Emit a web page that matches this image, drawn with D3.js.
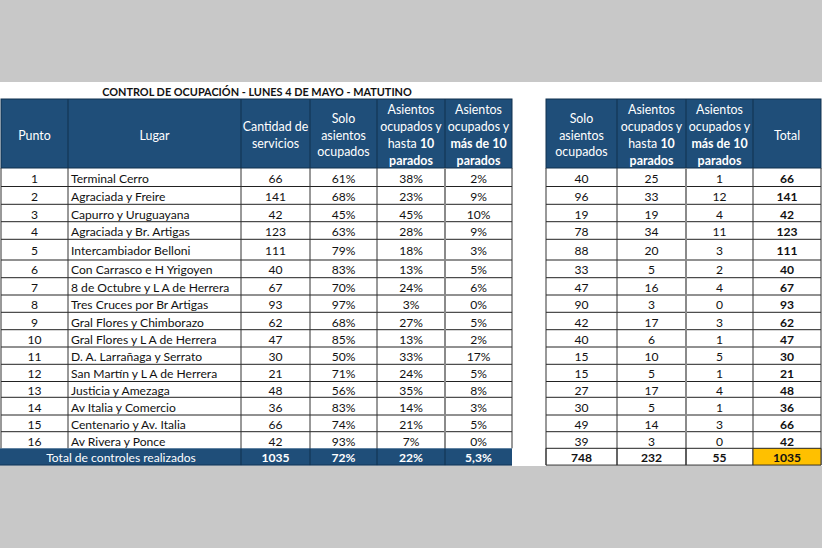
<!DOCTYPE html>
<html><head><meta charset="utf-8">
<script src="https://cdn.jsdelivr.net/npm/d3@7"></script>
<style>
html,body{margin:0;padding:0;background:#c8c8c8;}
svg{display:block;}
text{font-family:Lato,"Open Sans",sans-serif;}
</style></head>
<body>
<svg id="c" width="822" height="548"></svg>
<script>
// ---- data ----
const title = "CONTROL DE OCUPACIÓN - LUNES 4 DE MAYO - MATUTINO";
const puntos = ["1","2","3","4","5","6","7","8","9","10","11","12","13","14","15","16"];
const lugares = ["Terminal Cerro","Agraciada y Freire","Capurro y Uruguayana","Agraciada y Br. Artigas","Intercambiador Belloni","Con Carrasco e H Yrigoyen","8 de Octubre y L A de Herrera","Tres Cruces por Br Artigas","Gral Flores y Chimborazo","Gral Flores y L A de Herrera","D. A. Larrañaga y Serrato","San Martín y L A de Herrera","Justicia y Amezaga","Av Italia y Comercio","Centenario y Av. Italia","Av Rivera y Ponce"];
const cantidad = [66,141,42,123,111,40,67,93,62,47,30,21,48,36,66,42];
const soloPct = ["61%","68%","45%","63%","79%","83%","70%","97%","68%","85%","50%","71%","56%","83%","74%","93%"];
const hastaPct = ["38%","23%","45%","28%","18%","13%","24%","3%","27%","13%","33%","24%","35%","14%","21%","7%"];
const masPct = ["2%","9%","10%","9%","3%","5%","6%","0%","5%","2%","17%","5%","8%","3%","5%","0%"];
const soloN = [40,96,19,78,88,33,47,90,42,40,15,15,27,30,49,39];
const hastaN = [25,33,19,34,20,5,16,3,17,6,10,5,17,5,14,3];
const masN = [1,12,4,11,3,2,4,0,3,1,5,1,4,1,3,0];
const totalN = [66,141,42,123,111,40,67,93,62,47,30,21,48,36,66,42];
const totalLabel = "Total de controles realizados";
const totalsLeft = ["1035","72%","22%","5,3%"];
const totalsRight = ["748","232","55","1035"];

// header lines: arrays of [text, bold] segments per line
const headLeft = [
  [[["Punto",0]]],
  [[["Lugar",0]]],
  [[["Cantidad de",0]],[["servicios",0]]],
  [[["Solo",0]],[["asientos",0]],[["ocupados",0]]],
  [[["Asientos",0]],[["ocupados y",0]],[["hasta ",0],["10",1]],[["parados",1]]],
  [[["Asientos",0]],[["ocupados  y",0]],[["más de 10",1]],[["parados",1]]]
];
const headRight = [
  [[["Solo",0]],[["asientos",0]],[["ocupados",0]]],
  [[["Asientos",0]],[["ocupados y",0]],[["hasta ",0],["10",1]],[["parados",1]]],
  [[["Asientos",0]],[["ocupados  y",0]],[["más de 10",1]],[["parados",1]]],
  [[["Total",0]]]
];

// ---- layout ----
const BLUE = "#1f4e79", ORANGE = "#ffc000";
const colsL = [1,68,241,310,377,445,512];
const colsR = [546,617,686,753,821];
const headTop = 99, headBot = 168;
const rowH = [18.5,17.8,17.4,17.6,20.7,17.7,17.3,17.3,17.4,17.3,17.3,17.2,15.8,17.7,16.7,16.6,16.8];
const rowTops = [headBot];
rowH.forEach((h,i)=>rowTops.push(rowTops[i]+h));
const FS = 12.1, HFS = 12.4;

const svg = d3.select("#c");
svg.append("rect").attr("x",0).attr("y",82).attr("width",822).attr("height",384).attr("fill","#fff");

svg.append("text").attr("x",257).attr("y",91).attr("text-anchor","middle").attr("dominant-baseline","central")
  .attr("font-size",10.9).attr("font-weight","bold").attr("fill","#111").text(title);

function header(cols, heads){
  const g = svg.append("g");
  g.append("rect").attr("x",cols[0]).attr("y",headTop).attr("width",cols[cols.length-1]-cols[0]).attr("height",headBot-headTop).attr("fill",BLUE);
  heads.forEach((lines,i)=>{
    const cx = (cols[i]+cols[i+1])/2;
    const lh = 16.8;
    const cy = (headTop+headBot)/2 + 1;
    lines.forEach((segs,j)=>{
      const t = g.append("text").attr("x",cx).attr("y",cy+(j-(lines.length-1)/2)*lh)
        .attr("text-anchor","middle").attr("dominant-baseline","central").attr("font-size",HFS).attr("fill","#fff");
      segs.forEach(s=>t.append("tspan").attr("font-weight",s[1]?"bold":"normal").text(s[0]));
    });
  });
  cols.slice(1,-1).forEach(x=>g.append("line").attr("x1",x).attr("x2",x).attr("y1",headTop).attr("y2",headBot).attr("stroke","#10304f").attr("stroke-width",1));
  g.append("rect").attr("x",cols[0]).attr("y",headTop).attr("width",cols[cols.length-1]-cols[0]).attr("height",headBot-headTop).attr("fill","none").attr("stroke","#10304f");
}
header(colsL, headLeft);
header(colsR, headRight);

const idx = d3.range(puntos.length);
function cellText(g, x, y, txt, anchor, bold, color){
  g.append("text").attr("x",x).attr("y",y).attr("text-anchor",anchor).attr("dominant-baseline","central")
    .attr("font-size",FS).attr("font-weight",bold?"bold":"normal").attr("fill",color||"#111").text(txt);
}
const body = svg.append("g");
// rows
idx.forEach(i=>{
  const y0 = rowTops[i], y1 = rowTops[i+1], cy=(y0+y1)/2+1;
  const leftVals = [puntos[i], lugares[i], cantidad[i], soloPct[i], hastaPct[i], masPct[i]];
  leftVals.forEach((v,c)=>{
    if(c===1) cellText(body, colsL[1]+3, cy, v, "start");
    else cellText(body, (colsL[c]+colsL[c+1])/2, cy, v, "middle");
  });
  const rightVals = [soloN[i], hastaN[i], masN[i], totalN[i]];
  rightVals.forEach((v,c)=>cellText(body, (colsR[c]+colsR[c+1])/2, cy, v, "middle", c===3));
});
// grid
const gridTop = headBot, gridBot = rowTops[16];
rowTops.slice(1,16).forEach(y=>{
  body.append("line").attr("x1",colsL[0]).attr("x2",colsL[6]).attr("y1",y).attr("y2",y).attr("stroke","#222");
  body.append("line").attr("x1",colsR[0]).attr("x2",colsR[4]).attr("y1",y).attr("y2",y).attr("stroke","#222");
});
colsL.forEach((x,i)=>{
  const thick = i===5;
  body.append("line").attr("x1",x).attr("x2",x).attr("y1",gridTop).attr("y2",gridBot)
    .attr("stroke",thick?"#8a8a8a":"#333").attr("stroke-width",thick?2:1);
});
colsR.forEach((x,i)=>{
  const thick = i===2;
  body.append("line").attr("x1",x).attr("x2",x).attr("y1",gridTop).attr("y2",rowTops[17])
    .attr("stroke",thick?"#8a8a8a":"#333").attr("stroke-width",thick?2:1);
});
// totals row
const ty0 = rowTops[16], ty1 = rowTops[17], tcy=(ty0+ty1)/2+1;
body.append("rect").attr("x",0).attr("y",ty0).attr("width",colsL[6]).attr("height",ty1-ty0).attr("fill",BLUE);
[2,3,4,5].forEach(c=>body.append("line").attr("x1",colsL[c]).attr("x2",colsL[c]).attr("y1",ty0).attr("y2",ty1).attr("stroke","#10304f"));
body.append("line").attr("x1",0).attr("x2",colsL[6]).attr("y1",ty1).attr("y2",ty1).attr("stroke","#10304f");
cellText(body, (colsL[0]+colsL[2])/2, tcy, totalLabel, "middle", false, "#fff");
totalsLeft.forEach((v,c)=>cellText(body, (colsL[c+2]+colsL[c+3])/2, tcy, v, "middle", true, "#fff"));
body.append("rect").attr("x",colsR[3]).attr("y",ty0).attr("width",colsR[4]-colsR[3]).attr("height",ty1-ty0).attr("fill",ORANGE);
body.append("line").attr("x1",colsR[0]).attr("x2",colsR[4]).attr("y1",ty0).attr("y2",ty0).attr("stroke","#222");
body.append("line").attr("x1",colsR[0]).attr("x2",colsR[4]).attr("y1",ty1).attr("y2",ty1).attr("stroke","#222");
colsR.forEach(x=>body.append("line").attr("x1",x).attr("x2",x).attr("y1",ty0).attr("y2",ty1).attr("stroke","#333"));
totalsRight.forEach((v,c)=>cellText(body, (colsR[c]+colsR[c+1])/2, tcy, v, "middle", true));
</script>
</body></html>
